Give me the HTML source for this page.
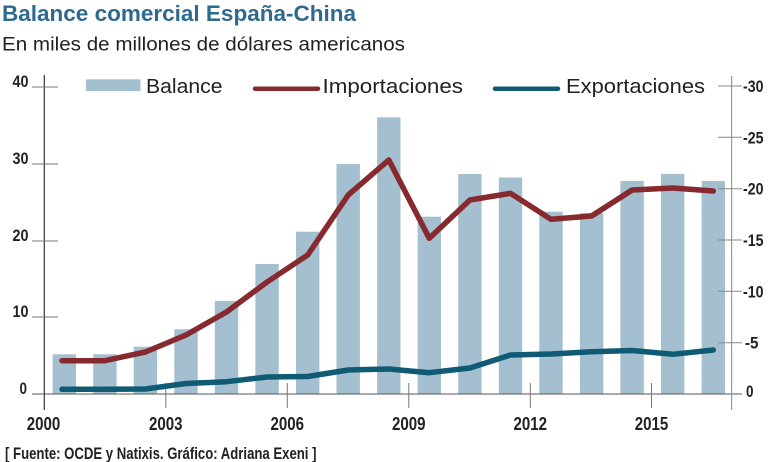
<!DOCTYPE html>
<html>
<head>
<meta charset="utf-8">
<style>
html,body{margin:0;padding:0;background:#fff;}
svg{display:block;}
.cond{font-family:"Liberation Sans Narrow","Liberation Sans",sans-serif;font-weight:bold;fill:#222;}
.reg{font-family:"Liberation Sans",sans-serif;fill:#222;}
</style>
</head>
<body>
<svg width="768" height="462" viewBox="0 0 768 462" xmlns="http://www.w3.org/2000/svg">
  <rect width="768" height="462" fill="#fff"/>
  <!-- Title -->
  <text x="2" y="21" font-family="Liberation Sans, sans-serif" font-weight="bold" font-size="22" fill="#2d6a8e" textLength="354" lengthAdjust="spacingAndGlyphs">Balance comercial España-China</text>
  <text x="2" y="50.5" class="reg" font-size="19.5" textLength="403" lengthAdjust="spacingAndGlyphs">En miles de millones de dólares americanos</text>

  <!-- Bars -->
  <g fill="#a4bfcf">
    <rect x="52.6" y="354.3" width="23.4" height="39.7"/>
    <rect x="93.2" y="354.3" width="23.4" height="39.7"/>
    <rect x="133.7" y="346.7" width="23.4" height="47.3"/>
    <rect x="174.3" y="329.3" width="23.4" height="64.7"/>
    <rect x="214.8" y="301" width="23.4" height="93"/>
    <rect x="255.4" y="264" width="23.4" height="130"/>
    <rect x="296" y="231.7" width="23.4" height="162.3"/>
    <rect x="336.5" y="164" width="23.4" height="230"/>
    <rect x="377.1" y="117.3" width="23.4" height="276.7"/>
    <rect x="417.6" y="216.7" width="23.4" height="177.3"/>
    <rect x="458.2" y="174" width="23.4" height="220"/>
    <rect x="498.8" y="177.5" width="23.4" height="216.5"/>
    <rect x="539.3" y="211.7" width="23.4" height="182.3"/>
    <rect x="579.9" y="213" width="23.4" height="181"/>
    <rect x="620.4" y="181" width="23.4" height="213"/>
    <rect x="661" y="174" width="23.4" height="220"/>
    <rect x="701.6" y="181" width="23.4" height="213"/>
  </g>

  <!-- Axes -->
  <line x1="44.3" y1="75" x2="44.3" y2="410" stroke="#333" stroke-width="1.2"/>
  <g stroke="#777" stroke-width="1">
    <line x1="32" y1="87" x2="58" y2="87"/>
    <line x1="32" y1="164" x2="58" y2="164"/>
    <line x1="32" y1="241" x2="58" y2="241"/>
    <line x1="32" y1="317" x2="58" y2="317"/>
  </g>
  <line x1="32" y1="394" x2="742" y2="394" stroke="#555" stroke-width="1"/>
  <g stroke="#777" stroke-width="1">
    <line x1="165.8" y1="383" x2="165.8" y2="408"/>
    <line x1="287.3" y1="383" x2="287.3" y2="408"/>
    <line x1="408.8" y1="383" x2="408.8" y2="408"/>
    <line x1="530.3" y1="383" x2="530.3" y2="408"/>
    <line x1="651.5" y1="383" x2="651.5" y2="408"/>
  </g>
  <line x1="731.6" y1="76" x2="731.6" y2="410" stroke="#999" stroke-width="1.2"/>
  <g stroke="#888" stroke-width="1">
    <line x1="718" y1="86" x2="742" y2="86"/>
    <line x1="718" y1="137.3" x2="742" y2="137.3"/>
    <line x1="718" y1="188.7" x2="742" y2="188.7"/>
    <line x1="718" y1="240" x2="742" y2="240"/>
    <line x1="718" y1="291.3" x2="742" y2="291.3"/>
    <line x1="718" y1="342.7" x2="742" y2="342.7"/>
  </g>

  <!-- Left labels -->
  <g class="cond" font-size="17" text-anchor="end">
    <text x="28.5" y="87" textLength="16" lengthAdjust="spacingAndGlyphs">40</text>
    <text x="28.5" y="164" textLength="16" lengthAdjust="spacingAndGlyphs">30</text>
    <text x="28.5" y="241" textLength="16" lengthAdjust="spacingAndGlyphs">20</text>
    <text x="28.5" y="317" textLength="16" lengthAdjust="spacingAndGlyphs">10</text>
    <text x="27" y="394" textLength="7.5" lengthAdjust="spacingAndGlyphs">0</text>
  </g>
  <!-- Right labels -->
  <g class="cond" font-size="17">
    <text x="743" y="92" textLength="20.5" lengthAdjust="spacingAndGlyphs">-30</text>
    <text x="743" y="143.3" textLength="20.5" lengthAdjust="spacingAndGlyphs">-25</text>
    <text x="743" y="194.7" textLength="20.5" lengthAdjust="spacingAndGlyphs">-20</text>
    <text x="743" y="246" textLength="20.5" lengthAdjust="spacingAndGlyphs">-15</text>
    <text x="743" y="297.3" textLength="20.5" lengthAdjust="spacingAndGlyphs">-10</text>
    <text x="745" y="348.7" textLength="13.5" lengthAdjust="spacingAndGlyphs">-5</text>
    <text x="746" y="397" textLength="7.5" lengthAdjust="spacingAndGlyphs">0</text>
  </g>
  <!-- Year labels -->
  <g class="cond" font-size="18" text-anchor="middle">
    <text x="43.5" y="430" textLength="33.5" lengthAdjust="spacingAndGlyphs">2000</text>
    <text x="165.8" y="430" textLength="33.5" lengthAdjust="spacingAndGlyphs">2003</text>
    <text x="287.3" y="430" textLength="33.5" lengthAdjust="spacingAndGlyphs">2006</text>
    <text x="408.8" y="430" textLength="33.5" lengthAdjust="spacingAndGlyphs">2009</text>
    <text x="530.3" y="430" textLength="33.5" lengthAdjust="spacingAndGlyphs">2012</text>
    <text x="651.5" y="430" textLength="33.5" lengthAdjust="spacingAndGlyphs">2015</text>
  </g>

  <!-- Importaciones line -->
  <polyline fill="none" stroke="#862a2f" stroke-width="5.5" stroke-linecap="round" stroke-linejoin="round"
    points="62,360.7 104.9,360.7 145.4,352 186,335 226.5,312 267.1,282 307.7,255 348.2,195 388.8,160 429.3,238.3 469.9,200 510.5,193.3 551,219.3 591.6,216 632.1,190 672.7,188 713.3,191"/>
  <!-- Exportaciones line -->
  <polyline fill="none" stroke="#0f5b73" stroke-width="5.5" stroke-linecap="round" stroke-linejoin="round"
    points="62,389.3 104.9,389.3 145.4,389 186,383.5 226.5,381.7 267.1,377 307.7,376.5 348.2,370 388.8,369 429.3,372.7 469.9,368 510.5,355 551,354 591.6,351.7 632.1,350.5 672.7,354.3 713.3,350"/>

  <!-- Legend -->
  <rect x="86" y="79.3" width="54.5" height="11.7" fill="#a4bfcf"/>
  <text x="146" y="93" class="reg" font-size="20.5" textLength="76.5" lengthAdjust="spacingAndGlyphs">Balance</text>
  <line x1="255" y1="88.7" x2="318" y2="88.7" stroke="#862a2f" stroke-width="4.5" stroke-linecap="round"/>
  <text x="322.5" y="93" class="reg" font-size="20.5" textLength="140.5" lengthAdjust="spacingAndGlyphs">Importaciones</text>
  <line x1="495" y1="88.7" x2="558" y2="88.7" stroke="#0f5b73" stroke-width="4.5" stroke-linecap="round"/>
  <text x="566" y="93" class="reg" font-size="20.5" textLength="139" lengthAdjust="spacingAndGlyphs">Exportaciones</text>

  <!-- Source -->
  <text x="5" y="459" font-family="Liberation Sans, sans-serif" font-weight="bold" font-size="16.5" fill="#222" textLength="311.5" lengthAdjust="spacingAndGlyphs">[ Fuente: OCDE y Natixis. Gráfico: Adriana Exeni ]</text>
</svg>
</body>
</html>
